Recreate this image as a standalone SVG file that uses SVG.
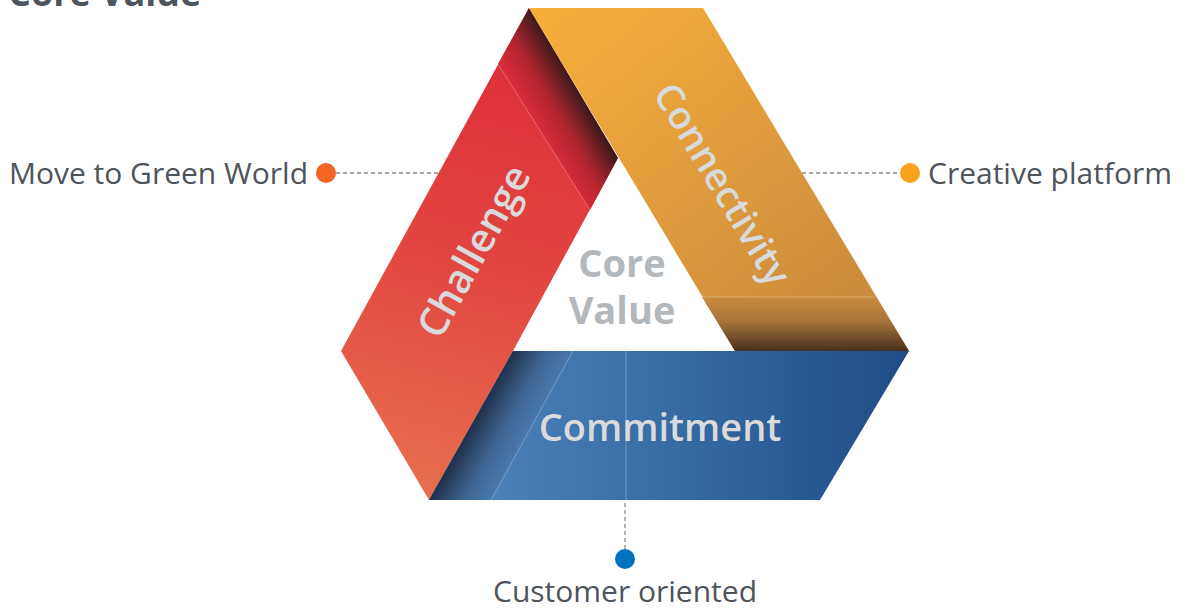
<svg xmlns="http://www.w3.org/2000/svg" width="1187" height="610" viewBox="0 0 1187 610">
<defs>
<linearGradient id="gRed" gradientUnits="userSpaceOnUse" x1="520" y1="20" x2="400" y2="500">
<stop offset="0" stop-color="#dc2a36"/><stop offset="0.5" stop-color="#e24640"/><stop offset="1" stop-color="#e8704f"/>
</linearGradient>
<linearGradient id="gFold" gradientUnits="userSpaceOnUse" x1="543" y1="137" x2="589" y2="110">
<stop offset="0" stop-color="#d92c37"/><stop offset="0.45" stop-color="#b32530"/><stop offset="1" stop-color="#3f1a1c"/>
</linearGradient>
<linearGradient id="gOrange" gradientUnits="userSpaceOnUse" x1="560" y1="8" x2="820" y2="330">
<stop offset="0" stop-color="#f5ae3a"/><stop offset="1" stop-color="#cc8b3e"/>
</linearGradient>
<linearGradient id="gOrDark" gradientUnits="userSpaceOnUse" x1="0" y1="297" x2="0" y2="351">
<stop offset="0" stop-color="#c98a3e"/><stop offset="0.45" stop-color="#a8743a"/><stop offset="1" stop-color="#46301e"/>
</linearGradient>
<linearGradient id="gBlue" gradientUnits="userSpaceOnUse" x1="491" y1="0" x2="909" y2="0">
<stop offset="0" stop-color="#4b80b8"/><stop offset="0.35" stop-color="#3a70a8"/><stop offset="1" stop-color="#1f4c86"/>
</linearGradient>
<linearGradient id="gBlueDark" gradientUnits="userSpaceOnUse" x1="471" y1="425" x2="523" y2="454">
<stop offset="0" stop-color="#1f2f4a"/><stop offset="0.5" stop-color="#3e6593"/><stop offset="1" stop-color="#4a7db5"/>
</linearGradient>
<style>
.lbl{font-family:"Open Sans","Liberation Sans",sans-serif;font-size:30px;fill:#4d545c}
.band{font-family:"Open Sans","Liberation Sans",sans-serif;font-weight:600;fill:#d9dadc}
.core{font-family:"Open Sans","Liberation Sans",sans-serif;font-weight:700;font-size:38px;fill:#b3b8bd;text-anchor:middle}
.dash{stroke:#8a8a8a;stroke-width:1.3;stroke-dasharray:4 3;fill:none}
.seam{stroke:#ffffff;stroke-opacity:0.35;stroke-width:0.8;fill:none}
</style>
</defs>
<text x="8" y="6" font-family="Open Sans, Liberation Sans, sans-serif" font-weight="700" font-size="36" fill="#4d545c">Core Value</text>
<g id="connectors">
<line class="dash" x1="336" y1="173" x2="440" y2="173"/>
<line class="dash" x1="802" y1="173" x2="900" y2="173"/>
<line class="dash" x1="625" y1="503" x2="625" y2="549"/>
</g>
<g id="challenge">
<polygon points="529,8 618,158 513,351 429,500 341,351" fill="url(#gRed)"/>
<polygon points="529,8 618,158 590,210 498,64" fill="url(#gFold)"/>
<line class="seam" x1="498" y1="64" x2="590" y2="210"/>
<text class="band" font-size="40" text-anchor="middle" transform="translate(486,258) rotate(-61)">Challenge</text>
</g>
<g id="connectivity">
<polygon points="529,8 703,8 909,351 735,351" fill="url(#gOrange)"/>
<polygon points="702,297 876,297 909,351 735,351" fill="url(#gOrDark)"/>
<line class="seam" x1="702" y1="297" x2="876" y2="297"/>
<text class="band" font-size="38" text-anchor="middle" transform="translate(711,191) rotate(59)">Connectivity</text>
</g>
<g id="commitment">
<polygon points="513,351 909,351 820,500 429,500" fill="url(#gBlue)"/>
<polygon points="513,351 573,351 491,500 429,500" fill="url(#gBlueDark)"/>
<line class="seam" x1="573" y1="351" x2="491" y2="500"/>
<line class="seam" x1="626" y1="351" x2="626" y2="500" stroke-opacity="0.15"/>
<text class="band" font-size="38" x="660" y="441" text-anchor="middle">Commitment</text>
</g>
<g id="core">
<text class="core" x="622" y="277">Core</text>
<text class="core" x="622" y="324">Value</text>
</g>
<g id="move-green">
<circle cx="326" cy="173" r="10" fill="#f26522"/>
<text class="lbl" x="308" y="184" text-anchor="end">Move to Green World</text>
</g>
<g id="creative">
<circle cx="910" cy="173" r="10" fill="#f7a21b"/>
<text class="lbl" x="928" y="184">Creative platform</text>
</g>
<g id="customer">
<circle cx="625" cy="559" r="10" fill="#0071bc"/>
<text class="lbl" x="625" y="602" text-anchor="middle">Customer oriented</text>
</g>
</svg>
